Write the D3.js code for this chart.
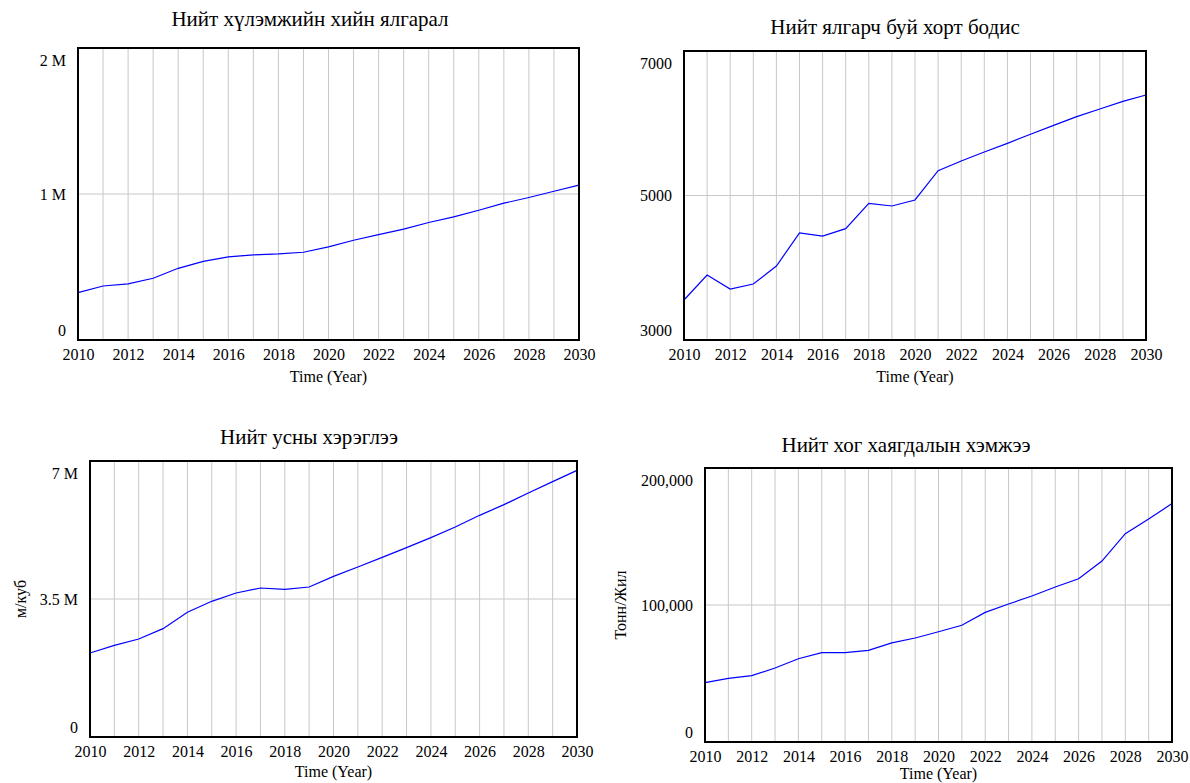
<!DOCTYPE html>
<html>
<head>
<meta charset="utf-8">
<script src="https://cdn.jsdelivr.net/npm/d3@7"></script>
<style>
  body { margin: 0; background: #fff; }
  text { font-family: "Liberation Serif", "Times New Roman", serif; fill: #000; }
</style>
</head>
<body>
<div id="chart"></div>
<script>
// years on the x axis
const years = [2010, 2011, 2012, 2013, 2014, 2015, 2016, 2017, 2018, 2019, 2020,
               2021, 2022, 2023, 2024, 2025, 2026, 2027, 2028, 2029, 2030];
const xTickYears = [2010, 2012, 2014, 2016, 2018, 2020, 2022, 2024, 2026, 2028, 2030];

// series
const ghgEmission = [325000, 370000, 384000, 423000, 491000, 539000, 569000, 583000, 590000, 601000, 638000,
                     683000, 722000, 759000, 805000, 843000, 889000, 937000, 976000, 1019000, 1061000];
const toxicEmission = [3554, 3900, 3706, 3775, 4024, 4481, 4439, 4541, 4892, 4855, 4938,
                       5344, 5478, 5602, 5722, 5847, 5971, 6091, 6197, 6303, 6391];
const waterUse = [2130000, 2325000, 2486000, 2748000, 3162000, 3441000, 3652000, 3779000, 3745000, 3804000, 4075000,
                  4312000, 4557000, 4802000, 5056000, 5326000, 5622000, 5893000, 6188000, 6476000, 6763000];
const wasteAmount = [43300, 46500, 48400, 54000, 60800, 65200, 65200, 66900, 72300, 75900, 80500,
                     85200, 94600, 100700, 106600, 113100, 119200, 132100, 152100, 162800, 174000];

const titles = ["Нийт хүлэмжийн хийн ялгарал", "Нийт ялгарч буй хорт бодис",
                "Нийт усны хэрэглээ", "Нийт хог хаягдалын хэмжээ"];
const yUnits = ["", "", "м/куб", "Тонн/Жил"];
const yTickValues = [[0, 1000000, 2000000], [3000, 5000, 7000], [0, 3500000, 7000000], [0, 100000, 200000]];
const yTickLabels = [["0", "1 M", "2 M"], ["3000", "5000", "7000"], ["0", "3.5 M", "7 M"], ["0", "100,000", "200,000"]];
const xTitle = "Time (Year)";

const series = [ghgEmission, toxicEmission, waterUse, wasteAmount];

// panel boxes in page pixels
const layout = [
  {left: 78,  right: 579,  top: 48,  bottom: 340, titleX: 310, titleY: 26,  unitX: 0,   xTitleGap: 42},
  {left: 684, right: 1146, top: 51,  bottom: 340, titleX: 895, titleY: 34,  unitX: 0,   xTitleGap: 42},
  {left: 90,  right: 577,  top: 461, bottom: 737, titleX: 309, titleY: 444, unitX: 20,  xTitleGap: 40},
  {left: 705, right: 1172, top: 468, bottom: 742, titleX: 906, titleY: 452, unitX: 620, xTitleGap: 37}
];

const svg = d3.select("#chart").append("svg")
    .attr("width", 1190)
    .attr("height", 783);

series.forEach((values, i) => {
  const box = layout[i];
  const data = years.map((yr, k) => ({year: yr, value: values[k]}));
  const ticks = yTickValues[i];

  const x = d3.scaleLinear()
      .domain([years[0], years[years.length - 1]])
      .range([box.left, box.right]);
  const y = d3.scaleLinear()
      .domain([ticks[0], ticks[2]])
      .range([box.bottom, box.top]);

  const g = svg.append("g");

  // vertical grid, one per year
  g.append("g").selectAll("line")
    .data(years)
    .enter().append("line")
      .attr("x1", d => x(d)).attr("x2", d => x(d))
      .attr("y1", box.top).attr("y2", box.bottom)
      .attr("stroke", "#c8c8c8")
      .attr("stroke-width", 1);

  // middle horizontal grid line
  g.append("line")
    .attr("x1", box.left).attr("x2", box.right)
    .attr("y1", y(ticks[1])).attr("y2", y(ticks[1]))
    .attr("stroke", "#c8c8c8")
    .attr("stroke-width", 1.2);

  const line = d3.line()
      .x(d => x(d.year))
      .y(d => y(d.value));

  g.append("path")
    .datum(data)
    .attr("fill", "none")
    .attr("stroke", "#0000ff")
    .attr("stroke-width", 1.2)
    .attr("d", line);

  // frame
  g.append("rect")
    .attr("x", box.left).attr("y", box.top)
    .attr("width", box.right - box.left)
    .attr("height", box.bottom - box.top)
    .attr("fill", "none")
    .attr("stroke", "#000")
    .attr("stroke-width", 2);

  // x axis labels
  const xa = g.append("g")
    .attr("transform", `translate(0,${box.bottom})`)
    .call(d3.axisBottom(x).tickValues(xTickYears).tickFormat(d3.format("d")).tickSize(0).tickPadding(9));
  xa.select(".domain").remove();
  xa.attr("font-family", null).attr("font-size", 16);

  // y axis labels, end labels pulled inside like the source tool does
  const ya = g.append("g")
    .attr("transform", `translate(${box.left},0)`)
    .call(d3.axisLeft(y).tickValues(ticks).tickFormat((d, k) => yTickLabels[i][k]).tickSize(0).tickPadding(12));
  ya.select(".domain").remove();
  ya.attr("font-family", null).attr("font-size", 16);
  ya.selectAll(".tick text").attr("y", (d, k) => k === 0 ? -10 : (k === 2 ? 12 : 0));

  g.append("text")
    .attr("x", (box.left + box.right) / 2)
    .attr("y", box.bottom + box.xTitleGap)
    .attr("text-anchor", "middle")
    .attr("font-size", 16)
    .text(xTitle);

  g.append("text")
    .attr("x", box.titleX)
    .attr("y", box.titleY)
    .attr("text-anchor", "middle")
    .attr("font-size", 21)
    .text(titles[i]);

  if (yUnits[i]) {
    g.append("text")
      .attr("transform", `translate(${box.unitX},${(box.top + box.bottom) / 2}) rotate(-90)`)
      .attr("text-anchor", "middle")
      .attr("dominant-baseline", "central")
      .attr("font-size", 16)
      .text(yUnits[i]);
  }
});
</script>
</body>
</html>
